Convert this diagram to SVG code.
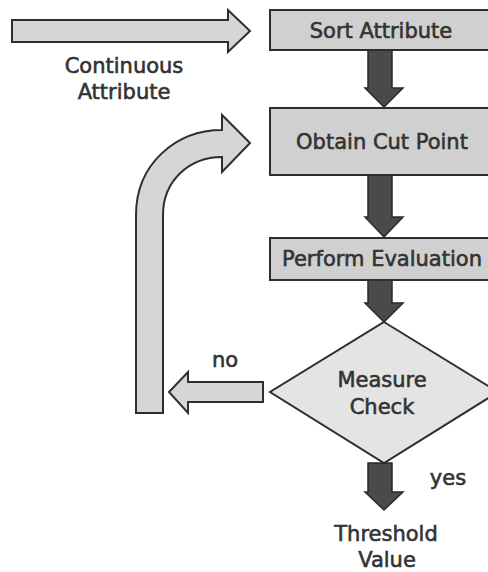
<svg xmlns="http://www.w3.org/2000/svg" width="488" height="572" viewBox="0 0 488 572">
<style>
.box{fill:#d0d0d0;stroke:#2e2e2e;stroke-width:2}
.dia{fill:#e4e4e4;stroke:#2e2e2e;stroke-width:2}
.light{fill:#d6d6d6;stroke:#2e2e2e;stroke-width:2;stroke-linejoin:miter}
.dark{fill:#4a4a4a;stroke:#2a2a2a;stroke-width:1.5}
text{font-family:"DejaVu Sans","Liberation Sans",sans-serif;font-size:21px;fill:#333;stroke:#333;stroke-width:0.6;text-anchor:middle}
</style>
<rect width="488" height="572" fill="#fff"/>
<g id="connectors">
<path class="light" d="M12,20 L228,20 L228,10 L250,31 L228,52 L228,42 L12,42 Z"/>
<path class="dark" d="M368,50 L392,50 L392,88 L403,88 L384,107 L365,88 L368,88 Z"/>
<path class="dark" d="M368,175 L392,175 L392,217 L403,217 L384,237 L365,217 L368,217 Z"/>
<path class="dark" d="M368,280 L392,280 L392,303 L403,303 L384,322 L365,303 L368,303 Z"/>
<path class="dark" d="M368,463 L392,463 L392,492 L403,492 L384,510 L365,492 L368,492 Z"/>
<path class="light" d="M263,382 L188,382 L188,372 L169,392 L188,413 L188,402 L263,402 Z"/>
<path class="light" d="M136,413 L136,215 C136,164 176,130 222,130 L222,115 L250,143 L222,172 L222,157 C189,157 163,181 163,215 L163,413 Z"/>
</g>
<g id="sort-attribute">
<rect class="box" x="270" y="10" width="220" height="40"/>
<text x="381" y="38">Sort Attribute</text>
</g>
<g id="continuous-attribute">
<text x="124" y="73">Continuous</text>
<text x="124" y="99">Attribute</text>
</g>
<g id="obtain-cut-point">
<rect class="box" x="270" y="108" width="220" height="67"/>
<text x="382" y="149">Obtain Cut Point</text>
</g>
<g id="perform-evaluation">
<rect class="box" x="270" y="238" width="220" height="42"/>
<text x="382" y="266">Perform Evaluation</text>
</g>
<g id="measure-check">
<polygon class="dia" points="384,322 498,392 384,463 270,392"/>
<text x="382" y="387">Measure</text>
<text x="382" y="414">Check</text>
</g>
<g id="labels">
<text x="225" y="367">no</text>
<text x="448" y="485">yes</text>
</g>
<g id="threshold-value">
<text x="386" y="541">Threshold</text>
<text x="387" y="567">Value</text>
</g>
</svg>
